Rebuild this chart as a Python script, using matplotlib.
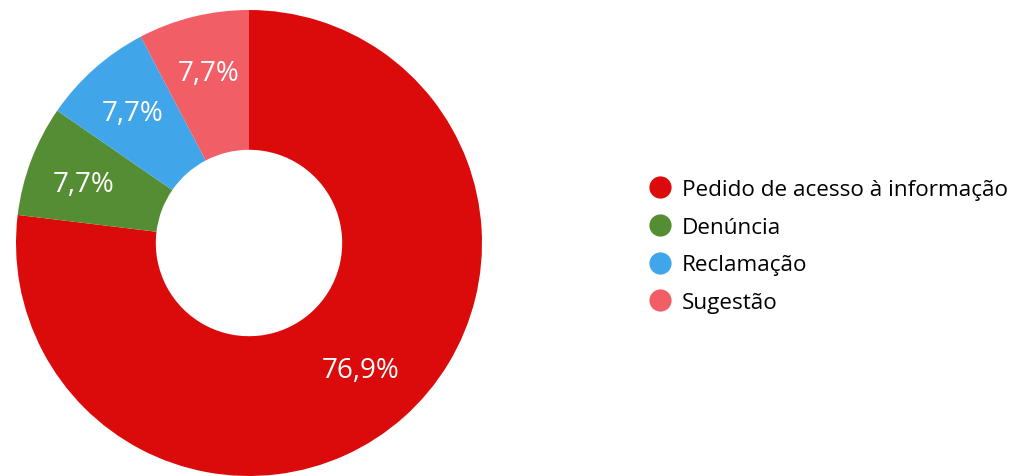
import matplotlib.pyplot as plt
from matplotlib.lines import Line2D

plt.rcParams['font.family'] = ['Open Sans', 'DejaVu Sans']

categories = ["Pedido de acesso à informação", "Denúncia", "Reclamação", "Sugestão"]
values = [10, 1, 1, 1]
colors = ["#dc0b0b", "#548d33", "#41a5e9", "#f15e66"]

fig = plt.figure(figsize=(10.14, 4.77), dpi=100)
ax = fig.add_axes([16 / 1014, 0, 466 / 1014, 466 / 477])

def fmt(p):
    return ("%.1f%%" % p).replace(".", ",")

wedges, texts, autotexts = ax.pie(values, colors=colors, startangle=90, counterclock=False,
                                  radius=1, autopct=fmt, pctdistance=0.77,
                                  wedgeprops=dict(width=0.6, linewidth=0),
                                  textprops=dict(color="white", fontsize=20))
# nudge labels slightly down, red label sits a bit closer to the hole
for t in autotexts[1:]:
    x, y = t.get_position()
    t.set_position((x + 0.01, y - 0.02))
autotexts[0].set_position((0.662 * 0.725, -0.749 * 0.725))
ax.set_xlim(-1, 1)
ax.set_ylim(-1, 1)
ax.set_aspect("equal")

handles = [Line2D([], [], marker="o", linestyle="", markersize=16, markerfacecolor=c,
                  markeredgewidth=0) for c in colors]
fig.legend(handles, categories, loc="center left", bbox_to_anchor=(0.620, 0.482),
           frameon=False, fontsize=16.2, handletextpad=0.45, labelspacing=0.74,
           handlelength=1.0)

fig.savefig("out.png", dpi=100)
